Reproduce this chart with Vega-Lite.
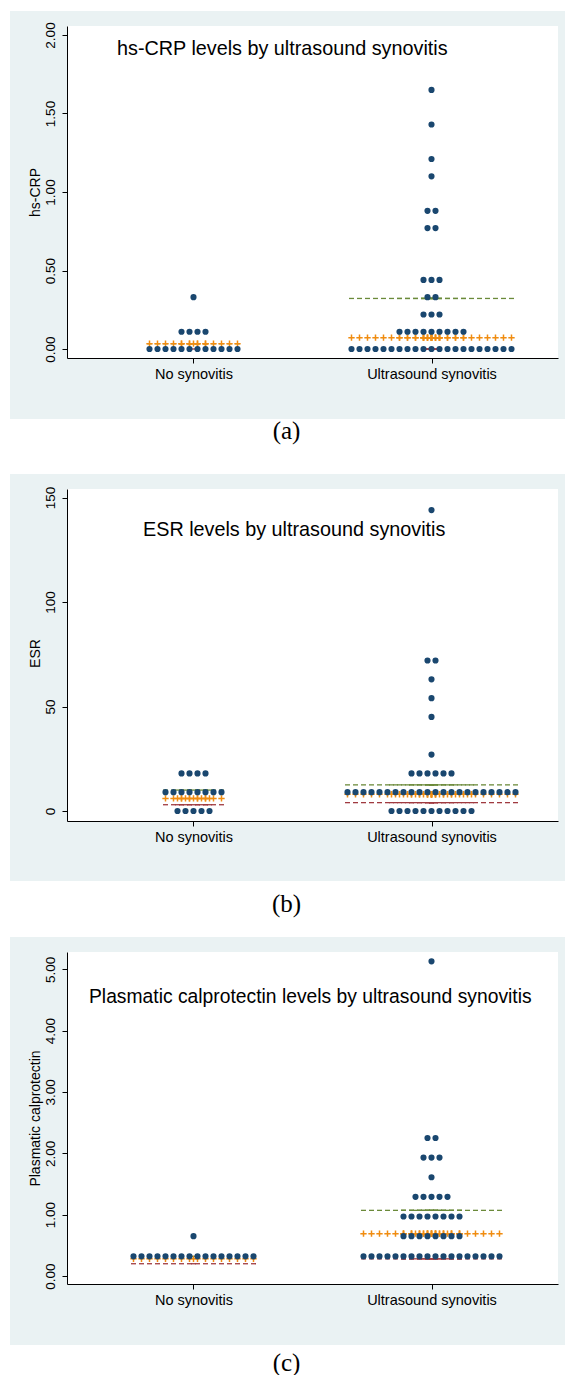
{
  "$schema": "https://vega.github.io/schema/vega-lite/v6.json",
  "background": "white",
  "padding": {"left": 9, "top": 10, "right": 1, "bottom": 0},
  "bounds": "flush",
  "spacing": 131,
  "config": {
    "view": {"stroke": null, "fill": "white"},
    "axis": {"grid": false, "labelFont": "Liberation Sans", "titleFont": "Liberation Sans", "labelColor": "#000", "titleColor": "#000", "tickColor": "#000", "domainColor": "#000", "titleFontWeight": "normal", "zindex": 1}
  },
  "datasets": {
    "crp": [
      {"group":"No synovitis","value":0},{"group":"No synovitis","value":0},{"group":"No synovitis","value":0},{"group":"No synovitis","value":0},
      {"group":"No synovitis","value":0},{"group":"No synovitis","value":0},{"group":"No synovitis","value":0},{"group":"No synovitis","value":0},
      {"group":"No synovitis","value":0},{"group":"No synovitis","value":0},{"group":"No synovitis","value":0},{"group":"No synovitis","value":0},
      {"group":"No synovitis","value":0.11},{"group":"No synovitis","value":0.11},{"group":"No synovitis","value":0.11},{"group":"No synovitis","value":0.11},
      {"group":"No synovitis","value":0.33},
      {"group":"Ultrasound synovitis","value":0},{"group":"Ultrasound synovitis","value":0},{"group":"Ultrasound synovitis","value":0},{"group":"Ultrasound synovitis","value":0},
      {"group":"Ultrasound synovitis","value":0},{"group":"Ultrasound synovitis","value":0},{"group":"Ultrasound synovitis","value":0},{"group":"Ultrasound synovitis","value":0},
      {"group":"Ultrasound synovitis","value":0},{"group":"Ultrasound synovitis","value":0},{"group":"Ultrasound synovitis","value":0},{"group":"Ultrasound synovitis","value":0},
      {"group":"Ultrasound synovitis","value":0},{"group":"Ultrasound synovitis","value":0},{"group":"Ultrasound synovitis","value":0},{"group":"Ultrasound synovitis","value":0},
      {"group":"Ultrasound synovitis","value":0},{"group":"Ultrasound synovitis","value":0},{"group":"Ultrasound synovitis","value":0},{"group":"Ultrasound synovitis","value":0},
      {"group":"Ultrasound synovitis","value":0},
      {"group":"Ultrasound synovitis","value":0.11},{"group":"Ultrasound synovitis","value":0.11},{"group":"Ultrasound synovitis","value":0.11},
      {"group":"Ultrasound synovitis","value":0.11},{"group":"Ultrasound synovitis","value":0.11},{"group":"Ultrasound synovitis","value":0.11},
      {"group":"Ultrasound synovitis","value":0.11},{"group":"Ultrasound synovitis","value":0.11},{"group":"Ultrasound synovitis","value":0.11},
      {"group":"Ultrasound synovitis","value":0.22},{"group":"Ultrasound synovitis","value":0.22},{"group":"Ultrasound synovitis","value":0.22},
      {"group":"Ultrasound synovitis","value":0.33},{"group":"Ultrasound synovitis","value":0.33},
      {"group":"Ultrasound synovitis","value":0.44},{"group":"Ultrasound synovitis","value":0.44},{"group":"Ultrasound synovitis","value":0.44},
      {"group":"Ultrasound synovitis","value":0.77},{"group":"Ultrasound synovitis","value":0.77},
      {"group":"Ultrasound synovitis","value":0.88},{"group":"Ultrasound synovitis","value":0.88},
      {"group":"Ultrasound synovitis","value":1.1},{"group":"Ultrasound synovitis","value":1.21},
      {"group":"Ultrasound synovitis","value":1.43},{"group":"Ultrasound synovitis","value":1.65}
    ],
    "crpStats": [
      {"group":"No synovitis","q25":0,"med":0.034,"q75":0.034},
      {"group":"Ultrasound synovitis","q25":0,"med":0.072,"q75":0.322}
    ],
    "esr": [
      {"group":"No synovitis","value":0},{"group":"No synovitis","value":0},{"group":"No synovitis","value":0},{"group":"No synovitis","value":0},{"group":"No synovitis","value":0},
      {"group":"No synovitis","value":9},{"group":"No synovitis","value":9},{"group":"No synovitis","value":9},{"group":"No synovitis","value":9},
      {"group":"No synovitis","value":9},{"group":"No synovitis","value":9},{"group":"No synovitis","value":9},{"group":"No synovitis","value":9},
      {"group":"No synovitis","value":18},{"group":"No synovitis","value":18},{"group":"No synovitis","value":18},{"group":"No synovitis","value":18},
      {"group":"Ultrasound synovitis","value":0},{"group":"Ultrasound synovitis","value":0},{"group":"Ultrasound synovitis","value":0},{"group":"Ultrasound synovitis","value":0},
      {"group":"Ultrasound synovitis","value":0},{"group":"Ultrasound synovitis","value":0},{"group":"Ultrasound synovitis","value":0},{"group":"Ultrasound synovitis","value":0},
      {"group":"Ultrasound synovitis","value":0},{"group":"Ultrasound synovitis","value":0},{"group":"Ultrasound synovitis","value":0},
      {"group":"Ultrasound synovitis","value":9},{"group":"Ultrasound synovitis","value":9},{"group":"Ultrasound synovitis","value":9},{"group":"Ultrasound synovitis","value":9},
      {"group":"Ultrasound synovitis","value":9},{"group":"Ultrasound synovitis","value":9},{"group":"Ultrasound synovitis","value":9},{"group":"Ultrasound synovitis","value":9},
      {"group":"Ultrasound synovitis","value":9},{"group":"Ultrasound synovitis","value":9},{"group":"Ultrasound synovitis","value":9},{"group":"Ultrasound synovitis","value":9},
      {"group":"Ultrasound synovitis","value":9},{"group":"Ultrasound synovitis","value":9},{"group":"Ultrasound synovitis","value":9},{"group":"Ultrasound synovitis","value":9},
      {"group":"Ultrasound synovitis","value":9},{"group":"Ultrasound synovitis","value":9},{"group":"Ultrasound synovitis","value":9},{"group":"Ultrasound synovitis","value":9},
      {"group":"Ultrasound synovitis","value":9},{"group":"Ultrasound synovitis","value":9},
      {"group":"Ultrasound synovitis","value":18},{"group":"Ultrasound synovitis","value":18},{"group":"Ultrasound synovitis","value":18},
      {"group":"Ultrasound synovitis","value":18},{"group":"Ultrasound synovitis","value":18},{"group":"Ultrasound synovitis","value":18},
      {"group":"Ultrasound synovitis","value":27},{"group":"Ultrasound synovitis","value":45},{"group":"Ultrasound synovitis","value":54},
      {"group":"Ultrasound synovitis","value":63},{"group":"Ultrasound synovitis","value":72},{"group":"Ultrasound synovitis","value":72},
      {"group":"Ultrasound synovitis","value":144}
    ],
    "esrStats": [
      {"group":"No synovitis","q25":3,"med":6,"q75":10},
      {"group":"Ultrasound synovitis","q25":4,"med":8,"q75":12.5}
    ],
    "calp": [
      {"group":"No synovitis","value":0.32},{"group":"No synovitis","value":0.32},{"group":"No synovitis","value":0.32},{"group":"No synovitis","value":0.32},
      {"group":"No synovitis","value":0.32},{"group":"No synovitis","value":0.32},{"group":"No synovitis","value":0.32},{"group":"No synovitis","value":0.32},
      {"group":"No synovitis","value":0.32},{"group":"No synovitis","value":0.32},{"group":"No synovitis","value":0.32},{"group":"No synovitis","value":0.32},
      {"group":"No synovitis","value":0.32},{"group":"No synovitis","value":0.32},{"group":"No synovitis","value":0.32},{"group":"No synovitis","value":0.32},
      {"group":"No synovitis","value":0.65},
      {"group":"Ultrasound synovitis","value":0.32},{"group":"Ultrasound synovitis","value":0.32},{"group":"Ultrasound synovitis","value":0.32},
      {"group":"Ultrasound synovitis","value":0.32},{"group":"Ultrasound synovitis","value":0.32},{"group":"Ultrasound synovitis","value":0.32},
      {"group":"Ultrasound synovitis","value":0.32},{"group":"Ultrasound synovitis","value":0.32},{"group":"Ultrasound synovitis","value":0.32},
      {"group":"Ultrasound synovitis","value":0.32},{"group":"Ultrasound synovitis","value":0.32},{"group":"Ultrasound synovitis","value":0.32},
      {"group":"Ultrasound synovitis","value":0.32},{"group":"Ultrasound synovitis","value":0.32},{"group":"Ultrasound synovitis","value":0.32},
      {"group":"Ultrasound synovitis","value":0.32},{"group":"Ultrasound synovitis","value":0.32},{"group":"Ultrasound synovitis","value":0.32},
      {"group":"Ultrasound synovitis","value":0.65},{"group":"Ultrasound synovitis","value":0.65},{"group":"Ultrasound synovitis","value":0.65},{"group":"Ultrasound synovitis","value":0.65},
      {"group":"Ultrasound synovitis","value":0.65},{"group":"Ultrasound synovitis","value":0.65},{"group":"Ultrasound synovitis","value":0.65},{"group":"Ultrasound synovitis","value":0.65},
      {"group":"Ultrasound synovitis","value":0.97},{"group":"Ultrasound synovitis","value":0.97},{"group":"Ultrasound synovitis","value":0.97},{"group":"Ultrasound synovitis","value":0.97},
      {"group":"Ultrasound synovitis","value":0.97},{"group":"Ultrasound synovitis","value":0.97},{"group":"Ultrasound synovitis","value":0.97},{"group":"Ultrasound synovitis","value":0.97},
      {"group":"Ultrasound synovitis","value":1.29},{"group":"Ultrasound synovitis","value":1.29},{"group":"Ultrasound synovitis","value":1.29},
      {"group":"Ultrasound synovitis","value":1.29},{"group":"Ultrasound synovitis","value":1.29},
      {"group":"Ultrasound synovitis","value":1.61},
      {"group":"Ultrasound synovitis","value":1.93},{"group":"Ultrasound synovitis","value":1.93},{"group":"Ultrasound synovitis","value":1.93},
      {"group":"Ultrasound synovitis","value":2.25},{"group":"Ultrasound synovitis","value":2.25},
      {"group":"Ultrasound synovitis","value":5.13}
    ],
    "calpStats": [
      {"group":"No synovitis","q25":0.2,"med":0.28,"q75":0.32},
      {"group":"Ultrasound synovitis","q25":0.28,"med":0.69,"q75":1.07}
    ]
  },
  "vconcat": [
    {
      "width": 491, "height": 332,
      "layer": [
        {"data": {"values": [{}]}, "mark": {"type": "rect", "color": "#eaf2f3"},
         "encoding": {
           "x": {"datum": -0.77101, "type": "quantitative", "scale": {"domain": [-0.53151, 1.53151], "nice": false, "zero": false}},
           "x2": {"datum": 1.56092},
           "y": {"datum": -0.4459, "type": "quantitative", "scale": {"domain": [-0.0573, 2.0573], "nice": false, "zero": false}},
           "y2": {"datum": 2.1529}}},
        {"data": {"values": [{}]}, "mark": {"type": "rect", "color": "white"},
         "encoding": {
           "x": {"datum": -0.53151, "type": "quantitative"}, "x2": {"datum": 1.53151},
           "y": {"datum": -0.0573, "type": "quantitative"}, "y2": {"datum": 2.0573}}},
        {"data": {"values": [{}]}, "mark": {"type": "text", "align": "left", "baseline": "alphabetic", "font": "Liberation Sans", "fontSize": 19.8, "color": "#000"},
         "encoding": {
           "x": {"datum": -0.3214, "type": "quantitative"}, "y": {"datum": 1.8726, "type": "quantitative"},
           "text": {"value": "hs-CRP levels by ultrasound synovitis"}}},
        {
          "data": {"name": "crp"},
          "transform": [
            {"window": [{"op": "row_number", "as": "idx"}, {"op": "count", "as": "n"}], "groupby": ["group", "value"], "frame": [null, null]},
            {"calculate": "(datum.group === 'Ultrasound synovitis' ? 1 : 0) + (datum.idx - (datum.n + 1) / 2) * 0.033613", "as": "xpos"},
            {"lookup": "group", "from": {"data": {"name": "crpStats"}, "key": "group", "fields": ["q25", "med", "q75"]}}
          ],
          "layer": [
            {"mark": {"type": "point", "shape": "M-1,0H1", "filled": false, "color": "#6b8a3a", "strokeWidth": 1.3, "size": 25, "opacity": 1},
             "encoding": {"x": {"field": "xpos", "type": "quantitative"}, "y": {"field": "q75", "type": "quantitative"}}},
            {"mark": {"type": "point", "shape": "M-1,0H1", "filled": false, "color": "#a03a40", "strokeWidth": 1.3, "size": 25, "opacity": 1},
             "encoding": {"x": {"field": "xpos", "type": "quantitative"}, "y": {"field": "q25", "type": "quantitative"}}},
            {"mark": {"type": "point", "shape": "M-1,0H1M0,-1V1", "filled": false, "color": "#f08c10", "strokeWidth": 1.5, "size": 40, "opacity": 1},
             "encoding": {"x": {"field": "xpos", "type": "quantitative"}, "y": {"field": "med", "type": "quantitative"}}},
            {"mark": {"type": "point", "shape": "circle", "filled": true, "color": "#1a476f", "size": 38, "opacity": 1},
             "encoding": {
               "x": {"field": "xpos", "type": "quantitative", "scale": {"domain": [-0.53151, 1.53151], "nice": false, "zero": false},
                     "axis": {"orient": "bottom", "zindex": 1, "values": [0, 1], "labelExpr": "datum.value === 0 ? 'No synovitis' : 'Ultrasound synovitis'", "tickSize": 5, "labelFontSize": 14.5, "labelPadding": 4, "labelOverlap": false, "labelFlush": false,
                              "title": "(a)", "titleFont": "Liberation Serif", "titleFontSize": 25, "titleColor": "black", "titleX": 219, "titleY": 80, "titleBaseline": "alphabetic", "titleAlign": "center"}},
               "y": {"field": "value", "type": "quantitative", "scale": {"domain": [-0.0573, 2.0573], "nice": false, "zero": false},
                     "axis": {"orient": "left", "zindex": 1, "values": [0, 0.5, 1, 1.5, 2], "format": ".2f", "labelAngle": -90, "labelAlign": "center", "labelBaseline": "bottom", "tickSize": 5, "labelFontSize": 13.5, "labelPadding": 5,
                              "title": "hs-CRP", "titleFontSize": 14, "titleAngle": -90, "titleX": -32, "titleY": 166, "titleBaseline": "middle", "titleAlign": "center"}}}}
          ]
        }
      ]
    },
    {
      "width": 491, "height": 332,
      "layer": [
        {"data": {"values": [{}]}, "mark": {"type": "rect", "color": "#eaf2f3"},
         "encoding": {
           "x": {"datum": -0.77101, "type": "quantitative", "scale": {"domain": [-0.53151, 1.53151], "nice": false, "zero": false}},
           "x2": {"datum": 1.56092},
           "y": {"datum": -33.49, "type": "quantitative", "scale": {"domain": [-4.785, 154.07], "nice": false, "zero": false}},
           "y2": {"datum": 161.25}}},
        {"data": {"values": [{}]}, "mark": {"type": "rect", "color": "white"},
         "encoding": {
           "x": {"datum": -0.53151, "type": "quantitative"}, "x2": {"datum": 1.53151},
           "y": {"datum": -4.785, "type": "quantitative"}, "y2": {"datum": 154.07}}},
        {"data": {"values": [{}]}, "mark": {"type": "text", "align": "left", "baseline": "alphabetic", "font": "Liberation Sans", "fontSize": 19.8, "color": "#000"},
         "encoding": {
           "x": {"datum": -0.2122, "type": "quantitative"}, "y": {"datum": 131.58, "type": "quantitative"},
           "text": {"value": "ESR levels by ultrasound synovitis"}}},
        {
          "data": {"name": "esr"},
          "transform": [
            {"window": [{"op": "row_number", "as": "idx"}, {"op": "count", "as": "n"}], "groupby": ["group", "value"], "frame": [null, null]},
            {"calculate": "(datum.group === 'Ultrasound synovitis' ? 1 : 0) + (datum.idx - (datum.n + 1) / 2) * 0.033613", "as": "xpos"},
            {"lookup": "group", "from": {"data": {"name": "esrStats"}, "key": "group", "fields": ["q25", "med", "q75"]}}
          ],
          "layer": [
            {"mark": {"type": "point", "shape": "M-1,0H1", "filled": false, "color": "#6b8a3a", "strokeWidth": 1.3, "size": 25, "opacity": 1},
             "encoding": {"x": {"field": "xpos", "type": "quantitative"}, "y": {"field": "q75", "type": "quantitative"}}},
            {"mark": {"type": "point", "shape": "M-1,0H1", "filled": false, "color": "#a03a40", "strokeWidth": 1.3, "size": 25, "opacity": 1},
             "encoding": {"x": {"field": "xpos", "type": "quantitative"}, "y": {"field": "q25", "type": "quantitative"}}},
            {"mark": {"type": "point", "shape": "M-1,0H1M0,-1V1", "filled": false, "color": "#f08c10", "strokeWidth": 1.5, "size": 40, "opacity": 1},
             "encoding": {"x": {"field": "xpos", "type": "quantitative"}, "y": {"field": "med", "type": "quantitative"}}},
            {"mark": {"type": "point", "shape": "circle", "filled": true, "color": "#1a476f", "size": 38, "opacity": 1},
             "encoding": {
               "x": {"field": "xpos", "type": "quantitative", "scale": {"domain": [-0.53151, 1.53151], "nice": false, "zero": false},
                     "axis": {"orient": "bottom", "zindex": 1, "values": [0, 1], "labelExpr": "datum.value === 0 ? 'No synovitis' : 'Ultrasound synovitis'", "tickSize": 5, "labelFontSize": 14.5, "labelPadding": 4, "labelOverlap": false, "labelFlush": false,
                              "title": "(b)", "titleFont": "Liberation Serif", "titleFontSize": 25, "titleColor": "black", "titleX": 219, "titleY": 90, "titleBaseline": "alphabetic", "titleAlign": "center"}},
               "y": {"field": "value", "type": "quantitative", "scale": {"domain": [-4.785, 154.07], "nice": false, "zero": false},
                     "axis": {"orient": "left", "zindex": 1, "values": [0, 50, 100, 150], "format": "d", "labelAngle": -90, "labelAlign": "center", "labelBaseline": "bottom", "tickSize": 5, "labelFontSize": 13.5, "labelPadding": 5,
                              "title": "ESR", "titleFontSize": 14, "titleAngle": -90, "titleX": -32, "titleY": 164, "titleBaseline": "middle", "titleAlign": "center"}}}}
          ]
        }
      ]
    },
    {
      "width": 491, "height": 332,
      "layer": [
        {"data": {"values": [{}]}, "mark": {"type": "rect", "color": "#eaf2f3"},
         "encoding": {
           "x": {"datum": -0.77101, "type": "quantitative", "scale": {"domain": [-0.53151, 1.53151], "nice": false, "zero": false}},
           "x2": {"datum": 1.56092},
           "y": {"datum": -1.1249, "type": "quantitative", "scale": {"domain": [-0.1304, 5.282], "nice": false, "zero": false}},
           "y2": {"datum": 5.5266}}},
        {"data": {"values": [{}]}, "mark": {"type": "rect", "color": "white"},
         "encoding": {
           "x": {"datum": -0.53151, "type": "quantitative"}, "x2": {"datum": 1.53151},
           "y": {"datum": -0.1304, "type": "quantitative"}, "y2": {"datum": 5.282}}},
        {"data": {"values": [{}]}, "mark": {"type": "text", "align": "left", "baseline": "alphabetic", "font": "Liberation Sans", "fontSize": 19.3, "color": "#000"},
         "encoding": {
           "x": {"datum": -0.4391, "type": "quantitative"}, "y": {"datum": 4.4555, "type": "quantitative"},
           "text": {"value": "Plasmatic calprotectin levels by ultrasound synovitis"}}},
        {
          "data": {"name": "calp"},
          "transform": [
            {"window": [{"op": "row_number", "as": "idx"}, {"op": "count", "as": "n"}], "groupby": ["group", "value"], "frame": [null, null]},
            {"calculate": "(datum.group === 'Ultrasound synovitis' ? 1 : 0) + (datum.idx - (datum.n + 1) / 2) * 0.033613", "as": "xpos"},
            {"lookup": "group", "from": {"data": {"name": "calpStats"}, "key": "group", "fields": ["q25", "med", "q75"]}}
          ],
          "layer": [
            {"mark": {"type": "point", "shape": "M-1,0H1", "filled": false, "color": "#6b8a3a", "strokeWidth": 1.3, "size": 25, "opacity": 1},
             "encoding": {"x": {"field": "xpos", "type": "quantitative"}, "y": {"field": "q75", "type": "quantitative"}}},
            {"mark": {"type": "point", "shape": "M-1,0H1", "filled": false, "color": "#a03a40", "strokeWidth": 1.3, "size": 25, "opacity": 1},
             "encoding": {"x": {"field": "xpos", "type": "quantitative"}, "y": {"field": "q25", "type": "quantitative"}}},
            {"mark": {"type": "point", "shape": "M-1,0H1M0,-1V1", "filled": false, "color": "#f08c10", "strokeWidth": 1.5, "size": 40, "opacity": 1},
             "encoding": {"x": {"field": "xpos", "type": "quantitative"}, "y": {"field": "med", "type": "quantitative"}}},
            {"mark": {"type": "point", "shape": "circle", "filled": true, "color": "#1a476f", "size": 38, "opacity": 1},
             "encoding": {
               "x": {"field": "xpos", "type": "quantitative", "scale": {"domain": [-0.53151, 1.53151], "nice": false, "zero": false},
                     "axis": {"orient": "bottom", "zindex": 1, "values": [0, 1], "labelExpr": "datum.value === 0 ? 'No synovitis' : 'Ultrasound synovitis'", "tickSize": 5, "labelFontSize": 14.5, "labelPadding": 4, "labelOverlap": false, "labelFlush": false,
                              "title": "(c)", "titleFont": "Liberation Serif", "titleFontSize": 25, "titleColor": "black", "titleX": 219, "titleY": 86, "titleBaseline": "alphabetic", "titleAlign": "center"}},
               "y": {"field": "value", "type": "quantitative", "scale": {"domain": [-0.1304, 5.282], "nice": false, "zero": false},
                     "axis": {"orient": "left", "zindex": 1, "values": [0, 1, 2, 3, 4, 5], "format": ".2f", "labelAngle": -90, "labelAlign": "center", "labelBaseline": "bottom", "tickSize": 5, "labelFontSize": 13.5, "labelPadding": 5,
                              "title": "Plasmatic calprotectin", "titleFontSize": 14, "titleAngle": -90, "titleX": -32, "titleY": 166, "titleBaseline": "middle", "titleAlign": "center"}}}}
          ]
        }
      ]
    }
  ]
}
